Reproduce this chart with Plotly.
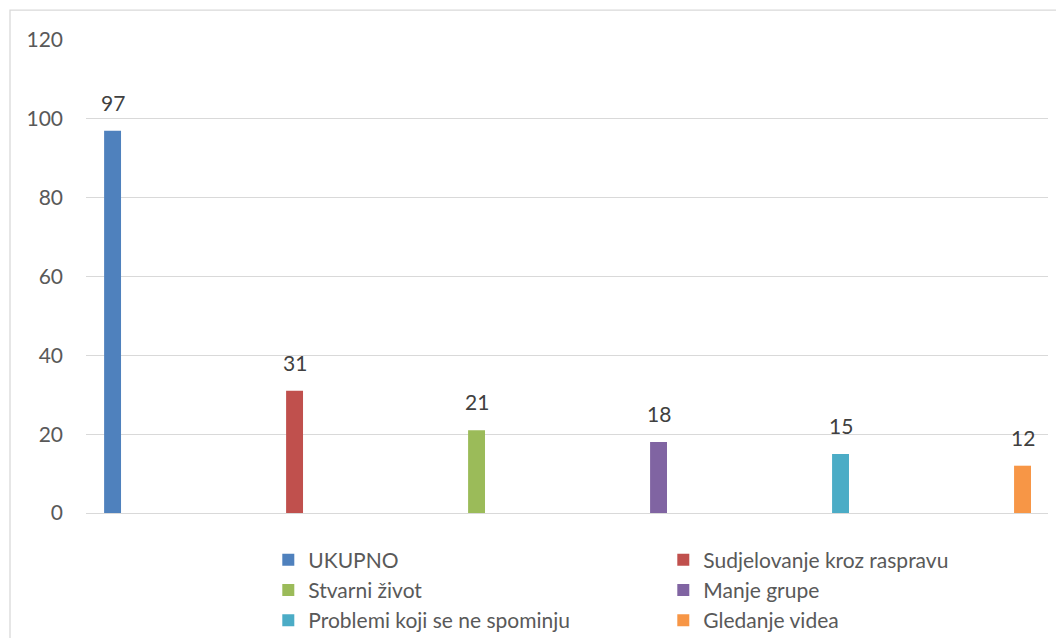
import plotly.graph_objects as go

categories = ["UKUPNO", "Sudjelovanje kroz raspravu", "Stvarni život",
              "Manje grupe", "Problemi koji se ne spominju", "Gledanje videa"]
values = [97, 31, 21, 18, 15, 12]
colors = ["#4F81BD", "#C0504D", "#9BBB59", "#8064A2", "#4BACC6", "#F79646"]
y_ticks = [0, 20, 40, 60, 80, 100, 120]

FONT = "Lato"
TXT = "#595959"

fig = go.Figure()
for cat, val, col in zip(categories, values, colors):
    fig.add_trace(go.Bar(
        x=[cat], y=[val], name=cat, marker=dict(color=col, line=dict(width=0)),
        width=0.093, hoverinfo="name+y",
    ))
    fig.add_annotation(x=cat, y=val, text=str(val), showarrow=False,
                       yanchor="bottom", yshift=14,
                       font=dict(family=FONT, size=21, color="#404040"))

fig.update_layout(
    width=1056, height=630,
    margin=dict(l=78, r=16, t=32, b=125, autoexpand=False),
    paper_bgcolor="white", plot_bgcolor="white",
    barmode="overlay",
    showlegend=True,
    font=dict(family=FONT, size=21, color=TXT),
    legend=dict(orientation="h", x=0.1895, xanchor="left", y=-0.056, yanchor="top",
                entrywidth=350, entrywidthmode="pixels", traceorder="normal",
                font=dict(family=FONT, size=21, color=TXT), tracegroupgap=0,
                bgcolor="rgba(0,0,0,0)"),
    xaxis=dict(type="category", categoryorder="array", categoryarray=categories,
               range=[-0.146, 5.14], showticklabels=False, showgrid=False,
               showline=False, zeroline=False, ticks=""),
    yaxis=dict(range=[0, 120], tickvals=y_ticks, showgrid=True, gridcolor="#D9D9D9",
               gridwidth=1.3, zeroline=True, zerolinecolor="#D9D9D9", zerolinewidth=1.3,
               showline=False, ticks="", ticklabelstandoff=22,
               tickfont=dict(family=FONT, size=21, color=TXT)),
    shapes=[dict(type="rect", xref="paper", yref="paper",
                 x0=-0.079, x1=1.2, y0=-0.4, y1=1.063,
                 line=dict(color="#D9D9D9", width=1.3), fillcolor="rgba(0,0,0,0)",
                 layer="below")],
)

fig.write_html("out.html")
